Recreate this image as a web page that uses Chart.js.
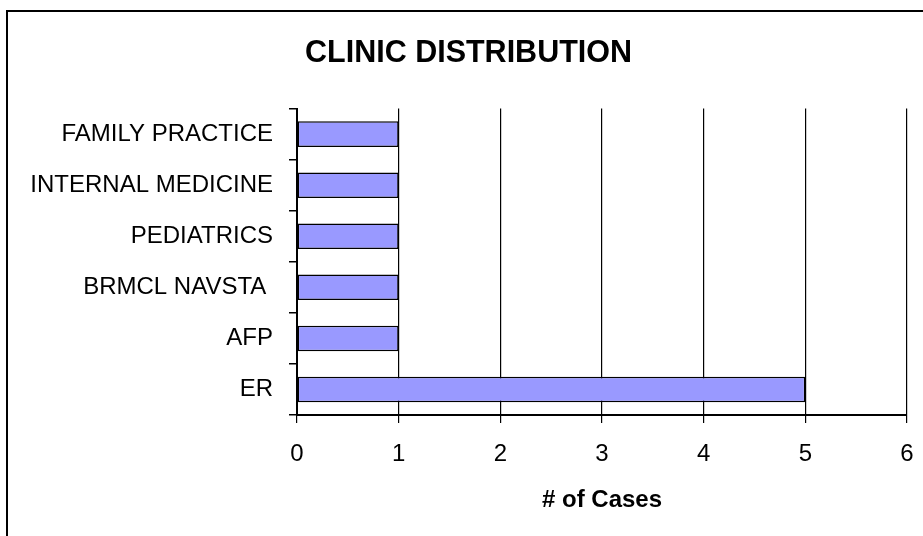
<!DOCTYPE html>
<html>
<head>
<meta charset="utf-8">
<script src="https://cdn.jsdelivr.net/npm/chart.js@4"></script>
<style>
  html, body { margin: 0; padding: 0; background: #ffffff; }
  #wrap { position: relative; width: 923px; height: 536px; overflow: hidden; }
  #frame { position: absolute; left: 6px; top: 10px; width: 2000px; height: 2000px;
           border-top: 2px solid #000; border-left: 2px solid #000; pointer-events: none; }
  canvas { position: absolute; left: 0; top: 0; }
</style>
</head>
<body>
<div id="wrap">
  <canvas id="c" width="923" height="536"></canvas>
  <div id="frame"></div>
</div>
<script>
const categories = ["FAMILY PRACTICE", "INTERNAL MEDICINE", "PEDIATRICS", "BRMCL NAVSTA ", "AFP", "ER"];
const cases = [1, 1, 1, 1, 1, 5];
const xMin = 0;
const xMax = 6;
const xStep = 1;
const chartTitle = "CLINIC DISTRIBUTION";
const xAxisTitle = "# of Cases";

const FONT = "'Liberation Sans', Arial, Helvetica, sans-serif";

new Chart(document.getElementById('c'), {
  type: 'bar',
  data: {
    labels: categories,
    datasets: [{
      data: cases,
      backgroundColor: '#9999FF',
      borderColor: '#000000',
      borderWidth: 1.5,
      borderSkipped: false,
      categoryPercentage: 1.0,
      barPercentage: 0.5
    }]
  },
  options: {
    indexAxis: 'y',
    responsive: false,
    animation: false,
    devicePixelRatio: 1,
    layout: { padding: { left: 30, right: 16, top: 0, bottom: 21 } },
    plugins: {
      legend: { display: false },
      tooltip: { enabled: false },
      title: {
        display: true,
        text: chartTitle,
        color: '#000000',
        font: { family: FONT, size: 30.5, weight: 'bold', lineHeight: 1.2 },
        padding: { top: 35, bottom: 37 }
      }
    },
    scales: {
      x: {
        type: 'linear',
        min: xMin,
        max: xMax,
        ticks: {
          stepSize: xStep,
          color: '#000000',
          padding: 4,
          font: { family: FONT, size: 24, lineHeight: 2.3 }
        },
        grid: {
          color: '#000000',
          lineWidth: 1.2,
          drawTicks: true,
          tickLength: 8,
          tickColor: '#000000'
        },
        border: { display: true, color: '#000000', width: 2 },
        title: {
          display: true,
          text: xAxisTitle,
          color: '#000000',
          font: { family: FONT, size: 24, weight: 'bold', lineHeight: 1.2 },
          padding: { top: 0, bottom: 0 }
        }
      },
      y: {
        type: 'category',
        afterFit: (scale) => { scale.width = 267; },
        ticks: {
          color: '#000000',
          padding: 16,
          font: { family: FONT, size: 24, lineHeight: 1.2 }
        },
        grid: {
          offset: true,
          drawOnChartArea: false,
          drawTicks: true,
          tickLength: 8,
          color: '#000000',
          lineWidth: 1.5
        },
        border: { display: true, color: '#000000', width: 2 }
      }
    }
  }
});
</script>
</body>
</html>
